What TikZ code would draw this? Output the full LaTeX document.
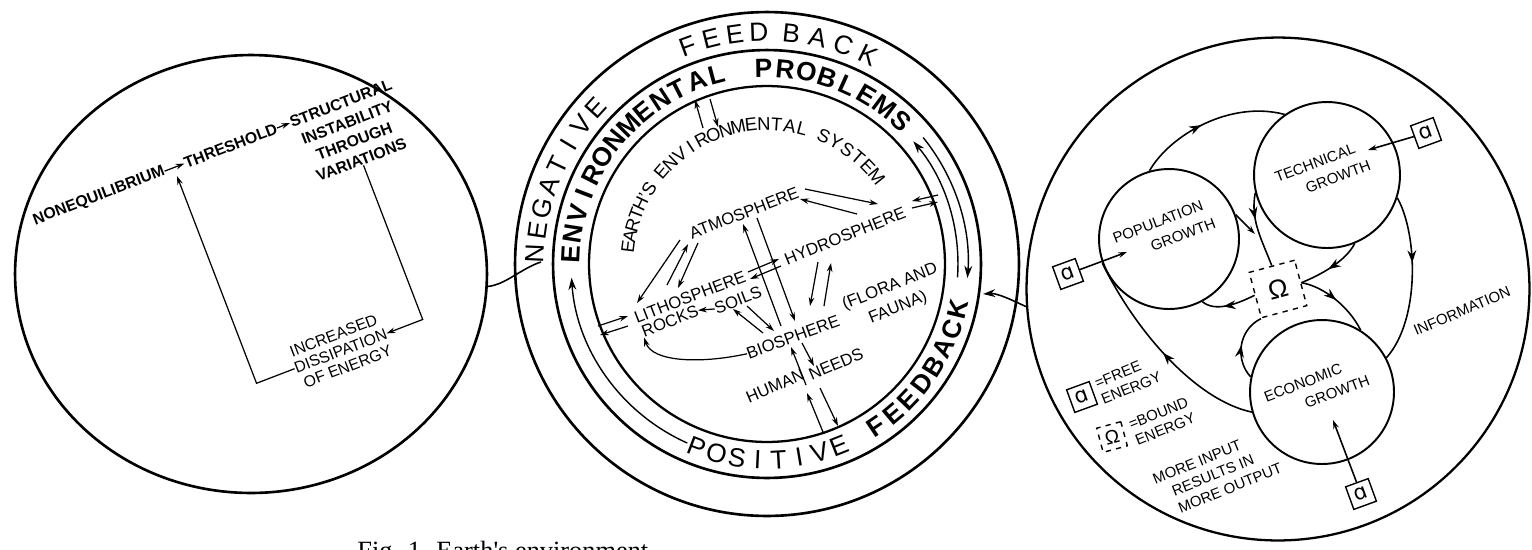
\documentclass[tikz,border=0pt]{standalone}
\usepackage{fontspec}
\setmainfont{Liberation Sans}
\newfontfamily\capfont{Liberation Serif}
\newfontfamily\dvs{DejaVu Sans}
\usetikzlibrary{calc,arrows.meta,shapes.geometric,decorations.markings}

% letters placed one by one round the centre C
\newcommand\ringword[7]{%
  \foreach \rwch [count=\i from 0] in {#7}{%
    \pgfmathsetmacro\rwang{#3+\i*(#4)}%
    \pgfmathsetmacro\rwrot{\rwang+(#5)}%
    \node[#6,rotate=\rwrot] (#1\i) at ($(C)+(\rwang:#2)$) {\rwch};}}
% short straight connector between two named coordinates
\newcommand\seg[4][arr]{\coordinate (#2a) at (#3);\coordinate (#2b) at (#4);\draw[#1] (#2a) -- (#2b);}

\begin{document}
\begin{tikzpicture}[x=0.02cm,y=-0.02cm,
  bigc/.style={draw,circle,inner sep=0pt,line width=1.5pt},
  ln/.style={line width=0.7pt},
  arr/.style={ln,-{Stealth[length=5pt,width=3.2pt]}},
  larr/.style={line width=0.8pt,-{Stealth[length=7pt,width=4.5pt]}},
  marr/.style={line width=0.9pt,postaction={decorate},decoration={markings,mark=at position #1 with {\arrow{Stealth[length=7pt,width=5pt]}}}},
  marr/.default=0.5,
  rw/.style={inner sep=0pt,font=\fontsize{15}{16}\selectfont},
  rb/.style={inner sep=0pt,font=\bfseries\fontsize{15}{16}\selectfont},
  rs/.style={inner sep=0pt,font=\fontsize{10.5}{11}\selectfont},
  iw/.style={inner sep=0pt,font=\fontsize{9.5}{10}\selectfont},
  lb/.style={inner sep=0pt,font=\bfseries\fontsize{9}{10}\selectfont},
  lr/.style={inner sep=0pt,font=\fontsize{9}{10}\selectfont},
  rtx/.style={inner sep=0pt,font=\fontsize{8.5}{10}\selectfont},
  fbox/.style={draw,line width=0.8pt,minimum size=0.48cm,inner sep=0pt,rotate=20,font=\dvs\fontsize{12}{12}\selectfont},
  obox/.style={draw,dashed,line width=0.8pt,inner sep=0pt,rotate=15},
]
\useasboundingbox (0,0) rectangle (1532,549);
\fill[white] (0,0) rectangle (1532,549);

%================ LEFT CIRCLE =================
\node[draw,ellipse,line width=1.5pt,minimum width=9.44cm,minimum height=8.76cm,inner sep=0pt] (lc) at (251,274) {};
\begin{scope}[shift={(251,274)},rotate=21,nodes={rotate=21}]
  \node[lb] (neq) at (-114,-127) {NONEQUILIBRIUM};
  \node[lb] (thr) at (27,-127) {THRESHOLD};
  \node[lb] (str) at (145,-127) {STRUCTURAL};
  \node[lb] (ins) at (144,-107) {INSTABILITY};
  \node[lb] (thg) at (144,-87) {THROUGH};
  \node[lb] (var) at (144,-67) {VARIATIONS};
  \node[lr] (inc) at (55,87) {INCREASED};
  \node[lr] (dis) at (56,104) {DISSIPATION};
  \node[lr] (ofe) at (57,121) {OF ENERGY};
  \draw[arr] (neq) -- (thr);
  \draw[arr] (thr) -- (str);
  \coordinate (vb) at (144,104);
  \draw[arr] (var.south) -- (vb) -- (dis.east);
  \coordinate (da) at (-34,104);
  \coordinate (ta) at (-34,-118);
  \draw[arr] (dis.west) -- (da) -- (ta);
\end{scope}

%================ MIDDLE CIRCLE =================
\coordinate (C) at (767,264);
\node[bigc,minimum size=10.08cm] (mo) at (C) {};
\node[bigc,minimum size=8.56cm] (m2) at (C) {};
\node[bigc,line width=1.3pt,minimum size=7.12cm] (m3) at (C) {};

\ringword{neg}{4.64cm}{177.5}{-5.7}{-90}{rw}{N,E,G,A,T,I,V,E}
\ringword{fee}{4.64cm}{110}{-6}{-90}{rw}{F,E,E,D}
\ringword{bac}{4.64cm}{84}{-6.6}{-90}{rw}{B,A,C,K}
\ringword{env}{3.92cm}{177}{-6}{-90}{rb}{E,N,V,I,R,O,N,M,E,N,T,A,L}
\ringword{pro}{3.92cm}{91}{-6.3}{-90}{rb}{P,R,O,B,L,E,M,S}
\ringword{ear}{2.8cm}{173}{-4.6}{-90}{rs}{E,A,R,T,H}
\ringword{apo}{2.8cm}{151}{-3.5}{-90}{rs}{',S}
\ringword{esy}{2.8cm}{139}{-5.3}{-90}{rs}{E,N,V,I,R,O,N,M,E,N,T,A,L}
\ringword{sys}{2.8cm}{66}{-5.5}{-90}{rs}{S,Y,S,T,E,M}
\ringword{pos}{3.92cm}{-111}{6.1}{90}{rw}{P,O,S,I,T,I,V,E}
\ringword{fbk}{3.92cm}{-56}{6.1}{90}{rb}{F,E,E,D,B,A,C,K}

% feedback arcs in the ring
\coordinate (pa1) at ($(C)+(246:3.92cm)$);
\draw[larr] (pa1) arc[start angle=246,end angle=184,radius=3.92cm];
\coordinate (pa2) at ($(C)+(-4:3.82cm)$);
\draw[larr] (pa2) arc[start angle=-4,end angle=40,radius=3.82cm];
\coordinate (pa3) at ($(C)+(39:4.02cm)$);
\draw[larr] (pa3) arc[start angle=39,end angle=-4,radius=4.02cm];

% inner words
\node[iw,rotate=21] (atm) at (744,213) {ATMOSPHERE};
\node[iw,rotate=22] (hyd) at (845,236) {HYDROSPHERE};
\node[iw,rotate=21] (lit) at (690,297) {LITHOSPHERE};
\node[iw,rotate=21] (roc) at (670,321) {ROCKS};
\node[iw,rotate=21] (soi) at (738,300) {SOILS};
\node[iw,rotate=20] (bio) at (793,337) {BIOSPHERE};
\node[iw,rotate=22] (flo) at (890,287) {(FLORA AND};
\node[iw,rotate=22] (fau) at (898,308) {FAUNA)};
\node[iw,rotate=23] (hum) at (775,386) {HUMAN};
\node[iw,rotate=23] (nee) at (836,364) {NEEDS};

\draw[arr] (soi.west) -- (roc.east);
\draw[arr] (bio.west) .. controls (700,364) and (652,362) .. (roc.south west);
\seg{m1}{680,240}{637,303}
\seg{m2}{667,285}{688,244}
\seg{m3}{698,243}{678,288}
\seg{m4}{805,189}{878,204}
\seg{m5}{857,214}{800,199}
\seg{m6}{912,208}{938,202}
\seg{m7}{938,195}{912,201}
\seg{m8}{598,326}{628,316}
\seg{m9}{628,326}{600,335}
\seg{m10}{763,333}{733,309}
\seg{m11}{747,306}{774,331}
\seg{m12}{748,272}{779,259}
\seg{m13}{781,266}{750,279}
\seg{m14}{818,262}{810,306}
\seg{m15}{824,306}{831,263}
\seg{m16}{781,326}{743,224}
\seg{m17}{757,218}{795,321}
\seg{m18}{806,385}{791,347}
\seg{m19}{802,343}{814,366}
\seg{m20}{823,432}{807,393}
\seg{m21}{820,388}{838,426}
\seg{m22}{703,128}{695,100}
\seg{m23}{710,99}{718,127}

%================ RIGHT CIRCLE =================
\node[bigc,line width=1.3pt,minimum size=10.06cm] (rc) at (1278,289) {};
\node[draw,circle,line width=1.1pt,minimum size=2.8cm,inner sep=0pt] (pop) at (1169,239) {};
\node[draw,circle,line width=1.1pt,minimum size=2.92cm,inner sep=0pt] (tec) at (1327,175) {};
\node[draw,circle,line width=1.1pt,minimum size=2.88cm,inner sep=0pt] (eco) at (1322,392) {};
\node[obox,minimum size=0.94cm,font=\fontsize{15}{15}\selectfont] (om) at (1278,289) {Ω};
\node[fbox] (fb1) at (1068,274) {ɑ};
\node[fbox] (fb2) at (1426,133) {ɑ};
\node[fbox] (fb3) at (1361,494) {ɑ};

\node[rtx,rotate=21] (pt1) at (1158,222) {POPULATION};
\node[rtx,rotate=21] (pt2) at (1183,235) {GROWTH};
\node[rtx,rotate=21] (tt1) at (1315,163) {TECHNICAL};
\node[rtx,rotate=21] (tt2) at (1338,177) {GROWTH};
\node[rtx,rotate=21] (et1) at (1303,383) {ECONOMIC};
\node[rtx,rotate=21] (et2) at (1337,392) {GROWTH};
\node[rtx,rotate=23] (inf) at (1462,311) {INFORMATION};

\node[fbox] (lg1) at (1082,397) {ɑ};
\node[rtx,rotate=22,align=left] (lg1t) at (1128,380) {=FREE\\ENERGY};
\node[obox,minimum size=0.5cm,font=\fontsize{11}{11}\selectfont] (lg2) at (1112,437) {Ω};
\node[rtx,rotate=22,align=left] (lg2t) at (1162,421) {=BOUND\\ENERGY};
\node[rtx,rotate=22] (mi1) at (1197,462) {MORE INPUT};
\node[rtx,rotate=22] (mi2) at (1213,475) {RESULTS IN};
\node[rtx,rotate=22] (mi3) at (1230,488) {MORE OUTPUT};

\draw[marr=0.45] (pop.106) .. controls (1170,135) and (1230,100) .. (tec.125);
\draw[marr=0.4] (tec.-18) .. controls (1418,235) and (1420,320) .. (eco.28);
\draw[marr=0.55] (tec.-68) .. controls (1345,262) and (1320,275) .. (om.east);
\draw[marr=0.35] (tec.194) .. controls (1250,220) and (1262,240) .. (om.north);
\coordinate (j1) at (1255,234);
\draw[arr,line width=0.9pt] (pop.20) -- (j1);
\draw[marr=0.6] (om.west) .. controls (1235,305) and (1215,312) .. (pop.-62);
\draw[marr=0.5] (om.east) .. controls (1322,286) and (1348,305) .. (eco.58);
\draw[marr=0.5] (eco.168) .. controls (1235,360) and (1238,330) .. (om.south west);
\draw[marr=0.5] (eco.196) .. controls (1195,400) and (1135,330) .. (pop.200);
\coordinate (pa) at (1127,252);
\draw[arr,line width=0.9pt] (fb1) -- (pa);
\coordinate (tb) at (1368,150);
\draw[arr,line width=0.9pt] (fb2) -- (tb);
\coordinate (eb) at (1333,420);
\draw[arr,line width=0.9pt] (fb3) -- (eb);

%================ LINKS BETWEEN CIRCLES =================
\coordinate (lcend) at (541,262);
\draw[line width=0.9pt] (lc.-3) .. controls (505,285) and (522,268) .. (lcend);
\coordinate (rcend) at (983,294);
\draw[line width=0.9pt,-{Stealth[length=7pt,width=4.5pt]}] (rc.184) .. controls (1012,300) and (997,293) .. (rcend);

%================ CAPTION (cut off at the bottom) =================
\begin{scope}
  \clip (0,0) rectangle (1532,549);
  \node[anchor=base west,inner sep=0pt,font=\capfont\fontsize{15}{17}\selectfont] (cap) at (357,559) {Fig. 1. Earth's environment};
\end{scope}
\end{tikzpicture}
\end{document}
